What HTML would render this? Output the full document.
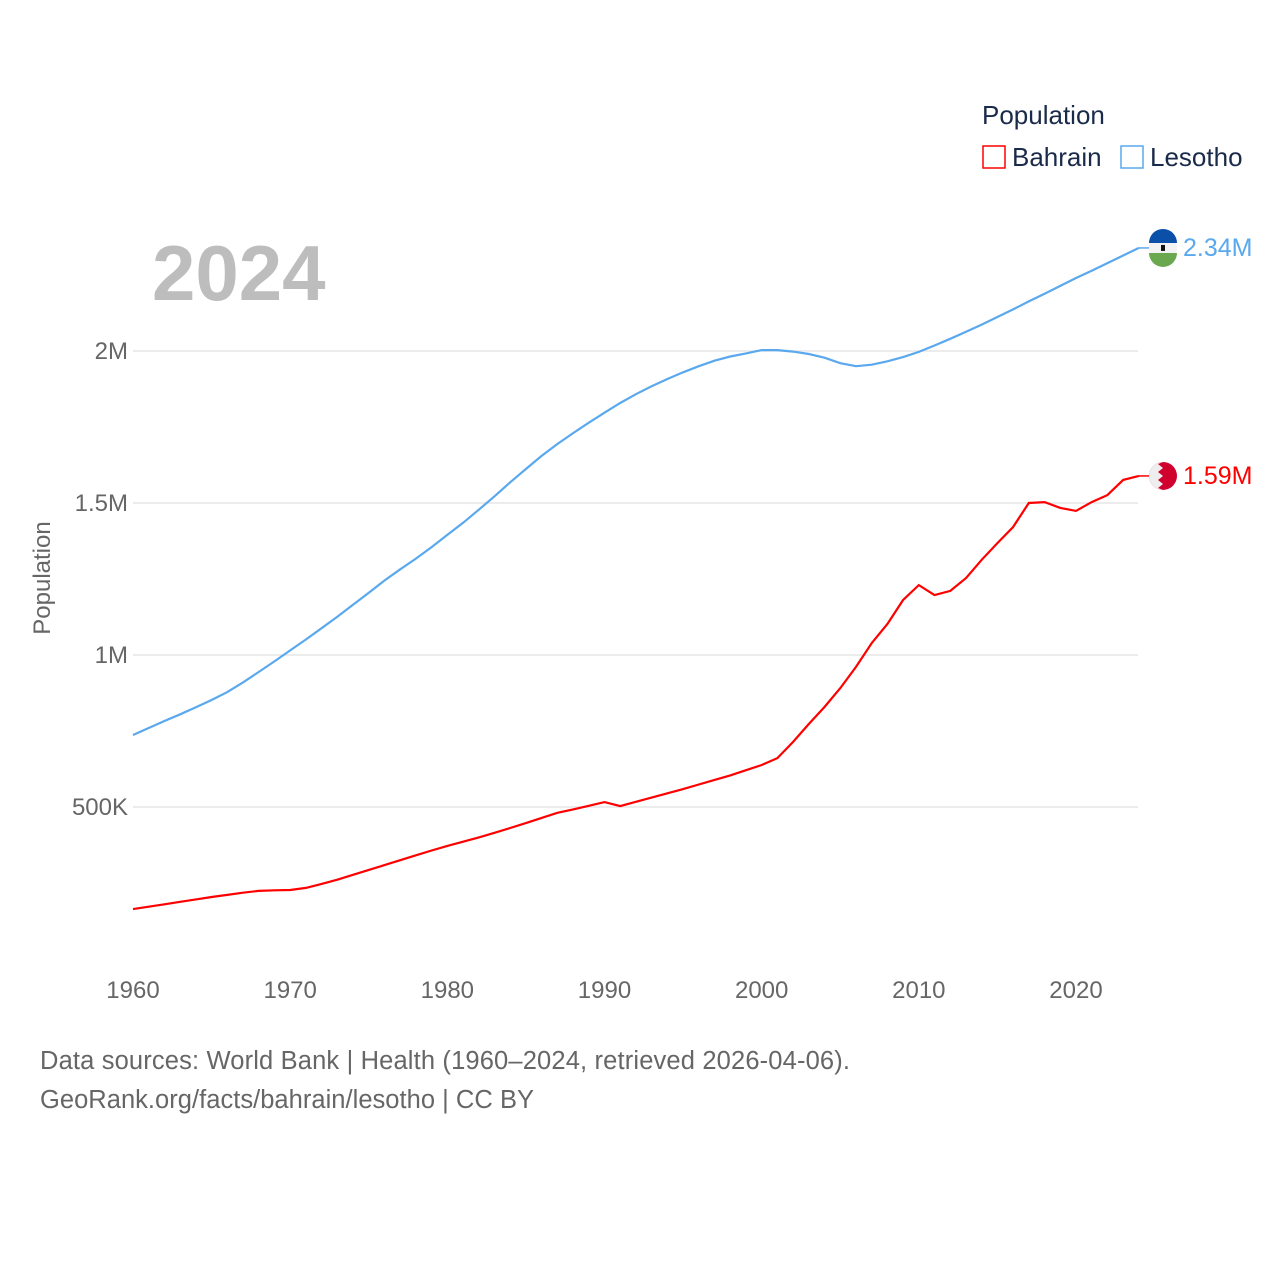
<!DOCTYPE html>
<html><head><meta charset="utf-8"><style>
body{margin:0;background:#fff;}
svg text{font-family:"Liberation Sans",sans-serif;}
</style></head><body>
<svg id="chart" width="1280" height="1280" viewBox="0 0 1280 1280" xmlns="http://www.w3.org/2000/svg">
<text x="982" y="124" font-size="26" fill="#1a2a4a">Population</text>
<g><rect x="983" y="146" width="22" height="22" fill="none" stroke="#f00" stroke-width="1.5"/><text x="1012" y="166" font-size="26" fill="#1a2a4a">Bahrain</text></g>
<g><rect x="1121" y="146" width="22" height="22" fill="none" stroke="#5aa8ee" stroke-width="1.5"/><text x="1150" y="166" font-size="26" fill="#1a2a4a">Lesotho</text></g>
<text x="152" y="300" font-size="78" font-weight="bold" fill="#bdbdbd">2024</text>
<text transform="translate(50,578) rotate(-90)" text-anchor="middle" font-size="24" fill="#666">Population</text>
<g id="grid"></g><g id="yticks"></g><g id="xticks"></g><g id="series"></g>
<text x="40" y="1069" font-size="25.5" fill="#666" textLength="810">Data sources: World Bank | Health (1960–2024, retrieved 2026-04-06).</text>
<text x="40" y="1108" font-size="25.5" fill="#666" textLength="494">GeoRank.org/facts/bahrain/lesotho | CC BY</text>
</svg>
<script>
const years=[];for(let y=1960;y<=2024;y++)years.push(y);
const lesotho=[737,760,783,805,828,852,878,910,944,979,1015,1051,1088,1126,1165,1205,1245,1282,1317,1355,1395,1435,1478,1522,1568,1612,1655,1694,1730,1764,1797,1829,1858,1884,1908,1930,1950,1968,1982,1992,2003,2003,1998,1990,1978,1960,1950,1955,1966,1980,1997,2018,2040,2063,2087,2112,2137,2163,2188,2214,2240,2264,2289,2314,2339];
const bahrain=[164,172,180,188,196,204,211,218,224,226,227,234,247,261,277,293,309,325,341,357,372,386,400,415,431,447,464,481,492,504,516,503,517,531,545,559,574,589,604,621,638,661,714,773,829,891,961,1039,1102,1181,1230,1197,1211,1253,1313,1368,1421,1500,1503,1484,1474,1503,1526,1576,1589];
const yTickVals=[500,1000,1500,2000];
const yTickLabels=["500K","1M","1.5M","2M"];
const xTickVals=[1960,1970,1980,1990,2000,2010,2020];
const X=y=>133+(y-1960)*943/60;
const Y=v=>959-v*152/500;
const NS="http://www.w3.org/2000/svg";
function mk(t,a,p){const e=document.createElementNS(NS,t);for(const k in a)e.setAttribute(k,a[k]);p.appendChild(e);return e;}
const grid=document.getElementById('grid'),yt=document.getElementById('yticks'),xt=document.getElementById('xticks'),sg=document.getElementById('series');
yTickVals.forEach((v,i)=>{
 const l=mk('line',{x1:133,x2:1138,y1:Y(v),y2:Y(v),stroke:'#e6e6e6','stroke-width':1.5},grid);
 
 
 const t=mk('text',{x:128,y:Y(v)+8,'text-anchor':'end','font-size':24,fill:'#666'},yt);t.textContent=yTickLabels[i];
 
 
});
xTickVals.forEach(v=>{
 const t=mk('text',{x:X(v),y:998,'text-anchor':'middle','font-size':24,fill:'#666'},xt);t.textContent=v;
 
 
});
function series(vals,color,name,label){
 const d=vals.map((v,i)=>(i?'L':'M')+X(years[i]).toFixed(1)+','+Y(v).toFixed(1)).join('');
 const p=mk('path',{d:d,fill:'none',stroke:color,'stroke-width':2.2},sg);
 
 
 const last=vals[vals.length-1],ly=Y(last);
 mk('line',{x1:1139,x2:1150,y1:ly,y2:ly,stroke:color,'stroke-width':1.5},sg);
 const t=mk('text',{x:1183,y:ly+8,'font-size':25,fill:color},sg);t.textContent=label;
 
 
 return ly;
}
const ly1=series(lesotho,'#5aa8ee','lesotho','2.34M');
const ly2=series(bahrain,'#f00','bahrain','1.59M');
const f1=mk('g',{},sg);


mk('circle',{cx:1163,cy:ly1,r:14,fill:'#f2f2f2'},f1);
mk('path',{d:`M1149,${ly1-5} A14,14 0 0 1 1177,${ly1-5} Z`,fill:'#0a4fa8'},f1);
mk('path',{d:`M1149,${ly1+5} A14,14 0 0 0 1177,${ly1+5} Z`,fill:'#6aa84f'},f1);
mk('rect',{x:1161,y:ly1-3,width:4,height:6,fill:'#111'},f1);
const f2=mk('g',{},sg);


mk('circle',{cx:1163,cy:ly2,r:14,fill:'#d0002f'},f2);
mk('path',{d:`M1163,${ly2-14} A14,14 0 0 0 1163,${ly2+14} L1158,${ly2+12} L1163,${ly2+8} L1158,${ly2+4} L1163,${ly2} L1158,${ly2-4} L1163,${ly2-8} L1158,${ly2-12} Z`,fill:'#eee'},f2);
</script>
</body></html>
